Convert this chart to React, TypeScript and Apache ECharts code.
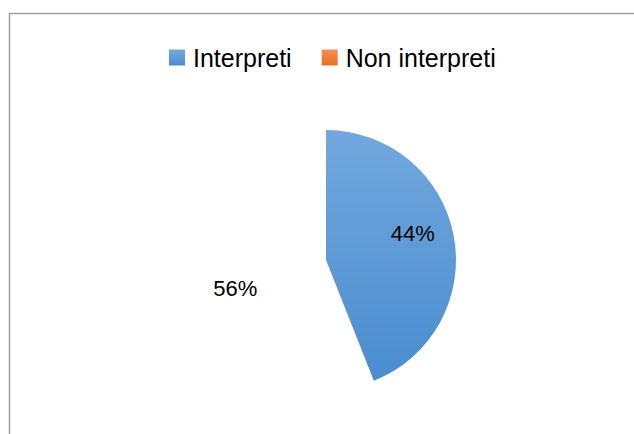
import React, { useEffect, useRef } from "react";
import * as echarts from "echarts";

const categories = ["Interpreti", "Non interpreti"];
const values = [44, 56];
const legendColors = [
  ["#72a8de", "#4a8ccf"],
  ["#f39155", "#e8701f"],
];

export default function App() {
  const ref = useRef<HTMLDivElement>(null);
  useEffect(() => {
    if (!ref.current) return;
    const chart = echarts.init(ref.current, null, { renderer: "svg" });
    const grad = (c: string[]) =>
      new echarts.graphic.LinearGradient(0, 0, 0, 1, [
        { offset: 0, color: c[0] },
        { offset: 1, color: c[1] },
      ]);
    const offsets = [
      [20, -14],
      [-24, 16],
    ];
    chart.setOption({
      animation: false,
      backgroundColor: "#ffffff",
      graphic: [
        {
          type: "rect",
          shape: { x: 9.5, y: 13.5, width: 640, height: 440 },
          style: { fill: "none", stroke: "#a0a0a0", lineWidth: 1.5 },
          silent: true,
        },
      ],
      legend: {
        left: 164,
        top: 40,
        itemWidth: 16,
        itemHeight: 16,
        itemGap: 30,
        icon: "rect",
        selectedMode: false,
        textStyle: {
          fontFamily: "Liberation Sans",
          fontSize: 25,
          color: "#000000",
          padding: [0, 0, 0, 3],
        },
        data: categories.map((name, i) => ({
          name,
          icon: "rect",
          itemStyle: { color: grad(legendColors[i]), opacity: 1 },
        })),
      },
      series: [
        {
          type: "pie",
          center: [326, 260],
          radius: [0, 130],
          startAngle: 90,
          clockwise: true,
          silent: true,
          emphasis: { disabled: true },
          labelLine: { show: false },
          data: categories.map((name, i) => ({
            name,
            value: values[i],
            itemStyle:
              i === 0
                ? { color: grad(legendColors[0]) }
                : { color: "rgba(255,255,255,0)" },
            label: {
              show: true,
              position: "inside",
              offset: offsets[i],
              formatter: (p: any) => Math.round(p.percent) + "%",
              fontFamily: "Liberation Sans",
              fontSize: 22,
              color: "#000000",
            },
          })),
        },
      ],
    });
    return () => chart.dispose();
  }, []);
  return (
    <div
      ref={ref}
      style={{ position: "absolute", left: 0, top: 0, width: 634, height: 434 }}
    />
  );
}
